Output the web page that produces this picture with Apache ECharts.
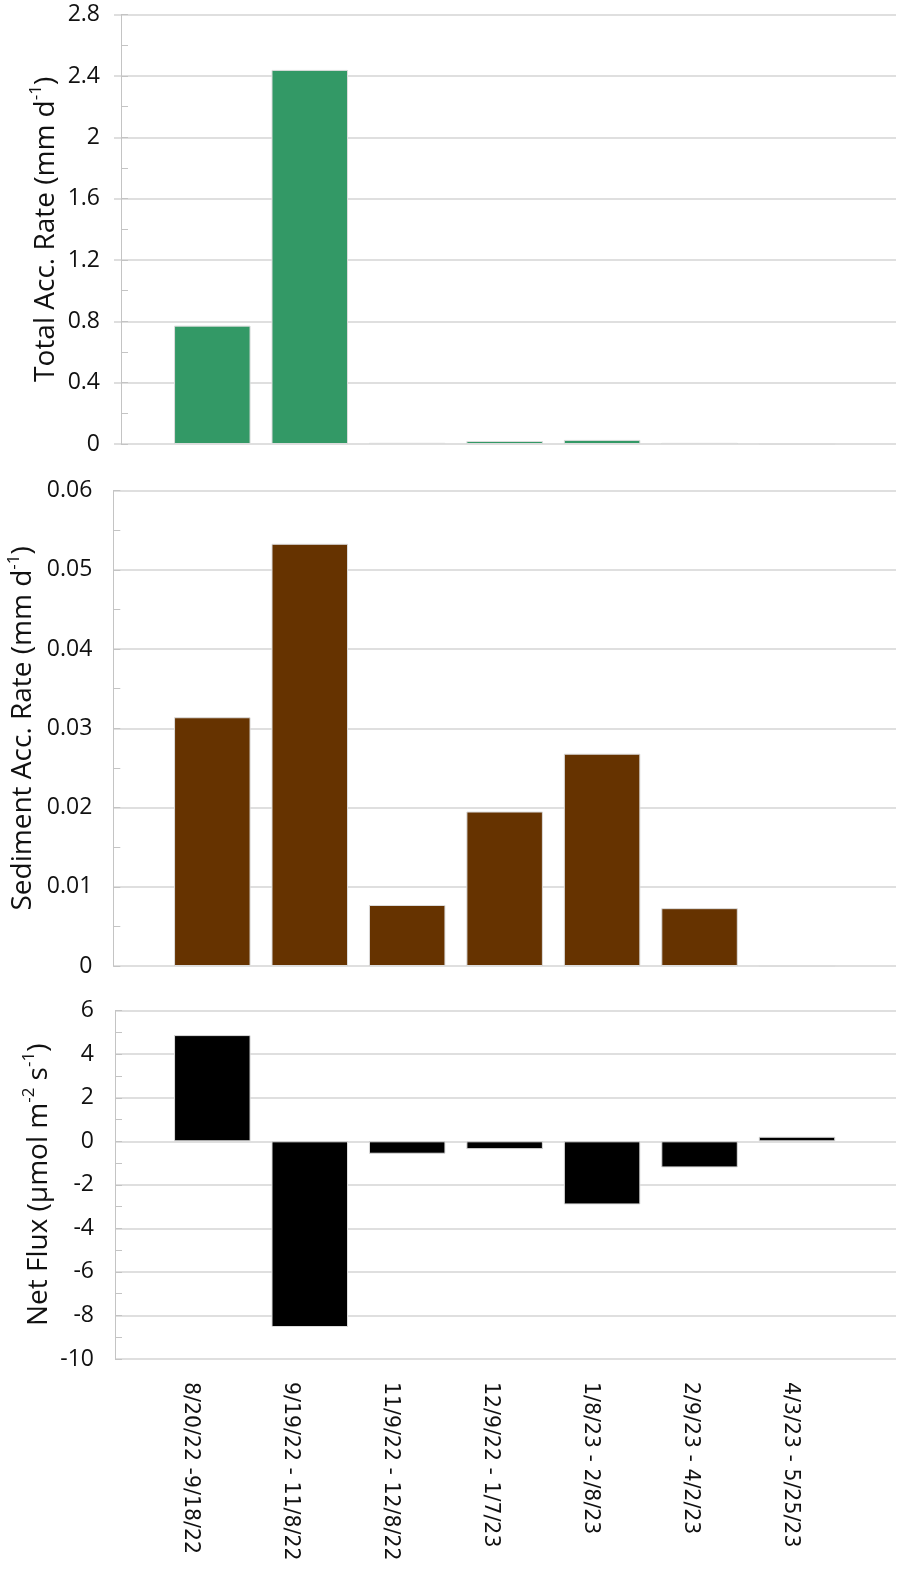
<!DOCTYPE html>
<html>
<head>
<meta charset="utf-8">
<script src="https://cdn.jsdelivr.net/npm/echarts@6/dist/echarts.min.js"></script>
<style>
  html, body { margin: 0; padding: 0; background: #ffffff; }
  #chart { width: 899px; height: 1576px; }
</style>
</head>
<body>
<div id="chart"></div>
<script>
// ---- data ----
const categories = ['8/20/22 -9/18/22', '9/19/22 - 11/8/22', '11/9/22 - 12/8/22', '12/9/22 - 1/7/23', '1/8/23 - 2/8/23', '2/9/23 - 4/2/23', '4/3/23 - 5/25/23'];
const totalAccRate = [0.772, 2.44, 0.0078, 0.0196, 0.0268, 0.0074, 0];
const sedimentAccRate = [0.0314, 0.0533, 0.0077, 0.0195, 0.0268, 0.0073, 0];
const netFlux = [4.88, -8.53, -0.57, -0.36, -2.9, -1.2, 0.21];
const yTicks1 = { min: 0, max: 2.8, interval: 0.4 };
const yTicks2 = { min: 0, max: 0.06, interval: 0.01 };
const yTicks3 = { min: -10, max: 6, interval: 2 };

// ---- layout ----
// category k (0-based) sits at x = k + BASE on a value axis
const BASE = 10;
const firstCenterPx = 212.3, stepPx = 97.45, plotRightPx = 896;
const toX = px => BASE + (px - firstCenterPx) / stepPx;
// the category labels in the original sit on a slightly different spacing
const labelFirstPx = 190, labelStepPx = 100.07;
const toLabelX = px => BASE + (px - labelFirstPx) / labelStepPx;

const panels = [
  { left: 121, top: 14.7, height: 429.3, ticks: yTicks1, data: totalAccRate, color: '#339966',
    name: 'Total Acc. Rate (mm d{sup|-1})', nameGap: 57, majorTick: true },
  { left: 113.3, top: 490.7, height: 475.3, ticks: yTicks2, data: sedimentAccRate, color: '#663300',
    name: 'Sediment Acc. Rate (mm d{sup|-1})', nameGap: 72, majorTick: false },
  { left: 115, top: 1010.7, height: 348.3, ticks: yTicks3, data: netFlux, color: '#000000',
    name: 'Net Flux (\u00b5mol m{sup|-2} s{sup|-1})', nameGap: 58, majorTick: false }
];

const grids = [], xAxes = [], yAxes = [], series = [];
const gridColor = '#d4d4d4', axisColor = '#c4c4c4';
const labelFont = 'Open Sans';

panels.forEach((p, i) => {
  grids.push({ left: p.left, top: p.top, width: plotRightPx - p.left, height: p.height,
    containLabel: false, outerBoundsMode: 'none' });
  xAxes.push({
    type: 'value', gridIndex: i, scale: true,
    min: toX(p.left), max: toX(plotRightPx),
    axisLine: { show: false }, axisTick: { show: false }, splitLine: { show: false },
    axisLabel: { show: false }
  });
  // main y axis
  yAxes.push({
    type: 'value', gridIndex: i, position: 'left',
    min: p.ticks.min, max: p.ticks.max, interval: p.ticks.interval,
    axisLine: { show: true, lineStyle: { color: axisColor, width: 1 } },
    axisTick: { show: p.majorTick, inside: false, length: 7, lineStyle: { color: gridColor, width: 1.5 } },
    splitLine: { show: true, lineStyle: { color: gridColor, width: 1.5 } },
    axisLabel: { margin: 21, fontFamily: labelFont, fontSize: 23, color: '#111',
      formatter: v => String(+v.toFixed(4)) },
    name: p.name, nameLocation: 'middle', nameGap: p.nameGap, nameMoveOverlap: false,
    nameTextStyle: { fontFamily: labelFont, fontSize: 28, color: '#111', lineHeight: 36,
      rich: { sup: { fontFamily: labelFont, fontSize: 17, color: '#111', verticalAlign: 'top', lineHeight: 36, padding: [0, 0, 13, 0] } } }
  });
  // minor ticks (inside)
  yAxes.push({
    type: 'value', gridIndex: i, position: 'left', offset: 0,
    min: p.ticks.min, max: p.ticks.max, interval: p.ticks.interval / 2,
    axisLine: { show: false },
    axisTick: { show: true, inside: true, length: 7, lineStyle: { color: axisColor, width: 1 } },
    splitLine: { show: false }, axisLabel: { show: false }
  });
  series.push({
    type: 'bar', xAxisIndex: i, yAxisIndex: i * 2,
    barWidth: 76.5,
    data: p.data.map((v, k) => [k + BASE, v]),
    itemStyle: { color: p.color, borderColor: '#dcdcdc', borderWidth: 1 },
    silent: true
  });
});

// category label axis on the bottom panel
const last = panels[panels.length - 1];
xAxes.push({
  type: 'value', gridIndex: panels.length - 1, position: 'bottom', scale: true,
  min: toLabelX(last.left), max: toLabelX(plotRightPx),
  axisLine: { show: false }, axisTick: { show: false }, splitLine: { show: false },
  axisLabel: {
    show: true, rotate: -90, margin: 23,
    customValues: categories.map((c, k) => k + BASE),
    formatter: v => categories[Math.round(v) - BASE] || '',
    fontFamily: 'DejaVu Sans', fontSize: 20.5, color: '#111'
  }
});

const chart = echarts.init(document.getElementById('chart'), null, { renderer: 'canvas' });
chart.setOption({
  animation: false,
  backgroundColor: '#ffffff',
  grid: grids, xAxis: xAxes, yAxis: yAxes, series: series
});
</script>
</body>
</html>
